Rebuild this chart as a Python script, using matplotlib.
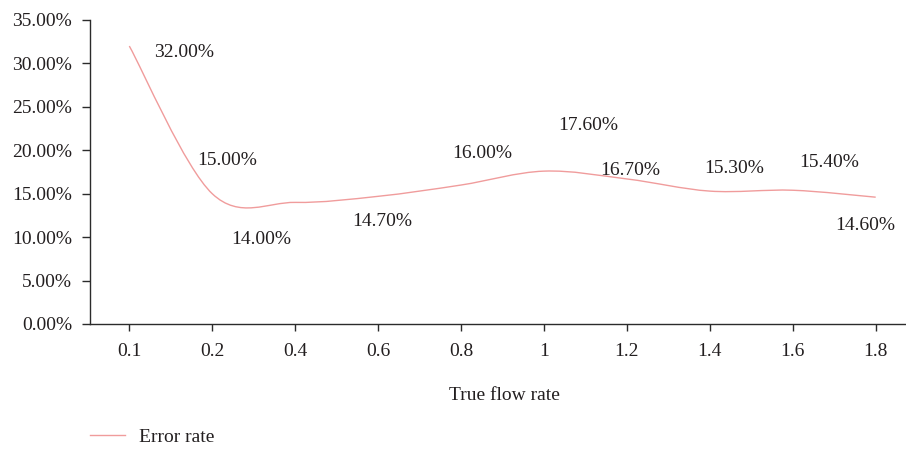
import matplotlib
matplotlib.use("Agg")
import matplotlib.pyplot as plt
from matplotlib.path import Path
from matplotlib.patches import PathPatch
from matplotlib.lines import Line2D
from matplotlib.ticker import FuncFormatter

plt.rcParams['font.family'] = ['Liberation Serif', 'DejaVu Serif']

# true flow rate categories and measured error rate (%)
flow_rates = ['0.1', '0.2', '0.4', '0.6', '0.8', '1', '1.2', '1.4', '1.6', '1.8']
error_rate = [32.0, 15.0, 14.0, 14.7, 16.0, 17.6, 16.7, 15.3, 15.4, 14.6]

# where each value label sits relative to its point, in pixels
label_offsets = [(55, -6), (15, 33), (-34, -37), (4, -25), (21, 32),
                 (44, 46), (3, 8), (24, 23), (36, 28), (-10, -28)]

line_color = '#f09c9c'
text_color = '#231f20'
fs = 14

fig = plt.figure(figsize=(9.06, 4.5), dpi=100)
ax = fig.add_axes([90 / 906, 126 / 450, 825 / 906, 304 / 450])

# smoothed line: cubic bezier segments through the points (catmull-rom tangents)
xs = list(range(len(error_rate)))
pts = list(zip(xs, error_rate))
verts = [pts[0]]
codes = [Path.MOVETO]
for i in range(len(pts) - 1):
    p0 = pts[i - 1] if i > 0 else pts[i]
    p1 = pts[i]
    p2 = pts[i + 1]
    p3 = pts[i + 2] if i + 2 < len(pts) else pts[i + 1]
    c1 = (p1[0] + (p2[0] - p0[0]) / 6, p1[1] + (p2[1] - p0[1]) / 6)
    c2 = (p2[0] - (p3[0] - p1[0]) / 6, p2[1] - (p3[1] - p1[1]) / 6)
    verts += [c1, c2, p2]
    codes += [Path.CURVE4] * 3
ax.add_patch(PathPatch(Path(verts, codes), fill=False, edgecolor=line_color,
                       lw=1.0, capstyle='butt'))

for x, v, (dx, dy) in zip(xs, error_rate, label_offsets):
    ax.annotate(f'{v:.2f}%', (x, v), xytext=(dx, dy), textcoords='offset pixels',
                ha='center', va='center', fontsize=fs, color=text_color)

ax.set_xlim(-0.474, 9.474)
ax.set_ylim(0, 35)
ax.set_xticks(xs)
ax.set_xticklabels(flow_rates)
ax.set_yticks(range(0, 36, 5))
ax.yaxis.set_major_formatter(FuncFormatter(lambda v, p: f'{v:.2f}%'))

for s in ['top', 'right']:
    ax.spines[s].set_visible(False)
for s in ['left', 'bottom']:
    ax.spines[s].set_color('#2b2b2b')
    ax.spines[s].set_linewidth(1.0)
ax.tick_params(axis='both', direction='out', color='#2b2b2b', width=1.0,
               labelsize=fs, labelcolor=text_color)
ax.tick_params(axis='y', length=6, pad=7)
ax.tick_params(axis='x', length=5, pad=9)

fig.text(504 / 906, 1 - 396 / 450, 'True flow rate', ha='center', va='center',
         fontsize=fs, color=text_color)

handle = Line2D([], [], color=line_color, lw=1.0)
fig.legend([handle], ['Error rate'], loc='center left',
           bbox_to_anchor=(90 / 906, 1 - 437 / 450), frameon=False,
           borderpad=0, borderaxespad=0, handlelength=1.8, handletextpad=0.7,
           fontsize=fs, labelcolor=text_color)

fig.savefig('out.png', dpi=100)
